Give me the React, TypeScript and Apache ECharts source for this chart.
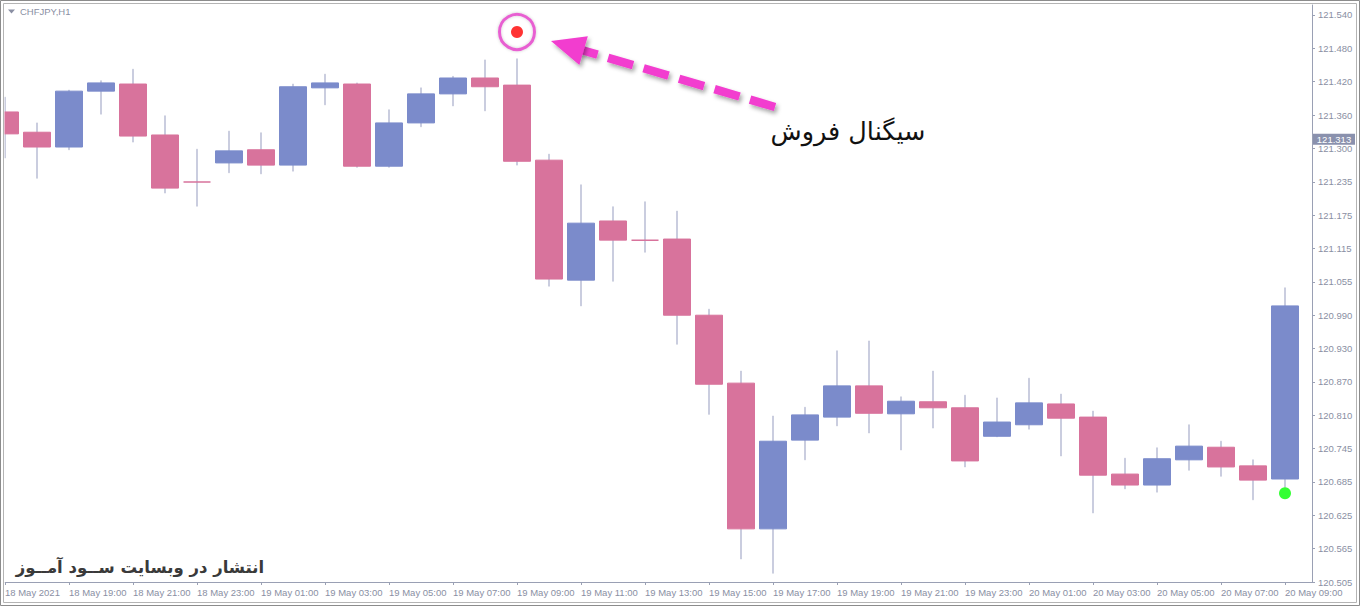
import React, { useEffect, useRef } from 'react';
import * as echarts from 'echarts';

// ---------- data ----------
const symbolLabel = 'CHFJPY,H1';
const signalText = 'سیگنال فروش';
const watermarkText = 'انتشار در وبسایت ســود آمــوز';

// x tick labels (one every 2 bars, starting at bar 0)
const timeLabels = [
  '18 May 2021', '18 May 19:00', '18 May 21:00', '18 May 23:00', '19 May 01:00', '19 May 03:00',
  '19 May 05:00', '19 May 07:00', '19 May 09:00', '19 May 11:00', '19 May 13:00', '19 May 15:00',
  '19 May 17:00', '19 May 19:00', '19 May 21:00', '19 May 23:00', '20 May 01:00', '20 May 03:00',
  '20 May 05:00', '20 May 07:00', '20 May 09:00',
];

// right price scale labels (bottom to top)
const priceLabels = [
  '120.505', '120.565', '120.625', '120.685', '120.745', '120.810', '120.870', '120.930', '120.990',
  '121.055', '121.115', '121.175', '121.235', '121.300', '121.360', '121.420', '121.480', '121.540',
];
const priceScaleMin = 120.505;
const priceScaleStep = 0.060882;

const opens = [
  121.363, 121.326, 121.299, 121.401, 121.414, 121.321, 121.235, 121.270, 121.294, 121.266,
  121.407, 121.414, 121.264, 121.343, 121.396, 121.425, 121.412, 121.275, 121.056, 121.164,
  121.129, 121.131, 120.992, 120.868, 120.602, 120.764, 120.806, 120.863, 120.812, 120.834,
  120.823, 120.771, 120.792, 120.830, 120.806, 120.702, 120.682, 120.728, 120.751, 120.717,
  120.693,
];
const closes = [
  121.323, 121.299, 121.401, 121.416, 121.319, 121.224, 121.235, 121.292, 121.266, 121.409,
  121.416, 121.264, 121.343, 121.396, 121.425, 121.409, 121.273, 121.058, 121.160, 121.129,
  121.129, 120.992, 120.866, 120.602, 120.762, 120.810, 120.863, 120.813, 120.835, 120.823,
  120.726, 120.797, 120.832, 120.804, 120.700, 120.682, 120.730, 120.753, 120.715, 120.691,
  121.009,
];
const lows = [
  121.279, 121.242, 121.294, 121.359, 121.308, 121.215, 121.191, 121.252, 121.250, 121.255,
  121.376, 121.262, 121.262, 121.336, 121.374, 121.365, 121.266, 121.045, 121.009, 121.054,
  121.107, 120.939, 120.811, 120.547, 120.521, 120.728, 120.790, 120.777, 120.746, 120.786,
  120.715, 120.770, 120.784, 120.735, 120.631, 120.675, 120.669, 120.709, 120.698, 120.655,
  120.678,
];
const highs = [
  121.390, 121.343, 121.403, 121.420, 121.441, 121.356, 121.295, 121.328, 121.325, 121.414,
  121.432, 121.416, 121.367, 121.407, 121.428, 121.458, 121.460, 121.286, 121.230, 121.190,
  121.199, 121.182, 121.003, 120.890, 120.808, 120.824, 120.927, 120.945, 120.843, 120.890,
  120.846, 120.841, 120.877, 120.848, 120.817, 120.731, 120.750, 120.792, 120.762, 120.728,
  121.042,
];

const sellSignal = [16, 121.509];
const buySignal = [40, 120.667];
const currentPrice = 121.313;
const currentPriceLabel = '121.313';

// ---------- styles ----------
const BULL = '#7b8bcb';
const BEAR = '#d8739c';
const WICK = '#c4c8db';
const AXIS = '#9aa0b4';
const LABEL = '#8a8fa3';
const MAGENTA = '#f23ecf';
const FONT = '"Liberation Sans", Arial, sans-serif';
const AR_FONT = '"DejaVu Sans", sans-serif';

export default function App() {
  const ref = useRef<HTMLDivElement>(null);

  useEffect(() => {
    const el = ref.current as HTMLDivElement;
    const chart = echarts.init(el, undefined, { renderer: 'svg' });

    const wickData = lows.map((l, i) => [i, l, highs[i], l, highs[i]]);
    const bodyData = opens.map((o, i) => {
      const c = closes[i];
      const item: any = { value: [i, o, c, Math.min(o, c), Math.max(o, c)] };
      if (o === c) {
        item.itemStyle = { borderColor: BEAR, borderColor0: BEAR, borderColorDoji: BEAR, borderWidth: 1.5 };
      }
      return item;
    });

    const gridTop = 5;
    const gridBottomPx = 582;
    const plotH = gridBottomPx - gridTop;
    const pxPerStep = 33.353;
    const stepsVisible = plotH / pxPerStep;
    const priceMax = priceScaleMin + stepsVisible * priceScaleStep;

    const option: any = {
      animation: false,
      backgroundColor: '#ffffff',
      grid: { left: 5, top: gridTop, right: 48, bottom: 606 - gridBottomPx, containLabel: false },
      xAxis: {
        type: 'value',
        min: 0,
        max: (1312 - 5) / 32,
        interval: 2,
        axisLine: { show: true, onZero: false, lineStyle: { color: AXIS, width: 1 } },
        axisTick: { show: true, length: 3, lineStyle: { color: AXIS } },
        splitLine: { show: false },
        axisLabel: {
          showMaxLabel: false,
          showMinLabel: true,
          align: 'left',
          margin: 5,
          padding: [0, 0, 0, 0],
          fontSize: 9.5,
          fontFamily: FONT,
          color: LABEL,
          formatter: (v: number) => {
            const idx = Math.round(v / 2);
            return Math.abs(v / 2 - idx) < 1e-6 && timeLabels[idx] ? timeLabels[idx] : '';
          },
        },
      },
      yAxis: [
        {
          type: 'value',
          min: priceScaleMin,
          max: priceMax,
          position: 'right',
          show: false,
          axisLine: { onZero: false },
          splitLine: { show: false },
        },
        {
          type: 'value',
          min: 0,
          max: stepsVisible,
          interval: 1,
          position: 'right',
          axisLine: { show: true, onZero: false, lineStyle: { color: AXIS, width: 1 } },
          axisTick: { show: true, length: 3, lineStyle: { color: AXIS } },
          splitLine: { show: false },
          axisLabel: {
            showMaxLabel: false,
            margin: 6,
            fontSize: 9.5,
            fontFamily: FONT,
            color: LABEL,
            formatter: (v: number) => {
              const idx = Math.round(v);
              return Math.abs(v - idx) < 1e-6 && priceLabels[idx] ? priceLabels[idx] : '';
            },
          },
        },
      ],
      series: [
        {
          name: 'wicks',
          type: 'candlestick',
          xAxisIndex: 0,
          yAxisIndex: 0,
          silent: true,
          barWidth: 1.5,
          itemStyle: { color: WICK, color0: WICK, borderColor: WICK, borderColor0: WICK, borderColorDoji: WICK, borderWidth: 0.8 },
          data: wickData,
        },
        {
          name: 'bodies',
          type: 'candlestick',
          xAxisIndex: 0,
          yAxisIndex: 0,
          silent: true,
          barWidth: 28,
          itemStyle: { color: BULL, color0: BEAR, borderColor: BULL, borderColor0: BEAR, borderColorDoji: BEAR, borderWidth: 1 },
          data: bodyData,
        },
        {
          name: 'sellRing',
          type: 'scatter',
          xAxisIndex: 0,
          yAxisIndex: 0,
          silent: true,
          symbol: 'circle',
          symbolSize: 35,
          itemStyle: { color: 'rgba(255,255,255,0)', borderColor: '#e63fcb', borderWidth: 3, shadowBlur: 3, shadowColor: 'rgba(0,0,0,0.25)' },
          data: [sellSignal],
          z: 5,
        },
        {
          name: 'sell',
          type: 'scatter',
          xAxisIndex: 0,
          yAxisIndex: 0,
          silent: true,
          symbol: 'circle',
          symbolSize: 12,
          itemStyle: { color: '#ff0000' },
          data: [sellSignal],
          z: 6,
        },
        {
          name: 'buy',
          type: 'scatter',
          xAxisIndex: 0,
          yAxisIndex: 0,
          silent: true,
          symbol: 'circle',
          symbolSize: 12,
          itemStyle: { color: '#00ff00' },
          data: [buySignal],
          z: 6,
        },
      ],
    };

    chart.setOption(option);

    const p = chart.convertToPixel({ seriesIndex: 3 }, sellSignal) as number[];
    const px = p[0];
    const py = p[1];
    const cy = chart.convertToPixel({ yAxisIndex: 0 }, currentPrice) as number;

    // arrow geometry relative to the sell signal
    const tip = [px + 34, py + 9];
    const tail = [px + 258, py + 75];
    const dx = tip[0] - tail[0];
    const dy = tip[1] - tail[1];
    const len = Math.sqrt(dx * dx + dy * dy);
    const ux = dx / len;
    const uy = dy / len;
    const nx = -uy;
    const ny = ux;
    const headL = 34;
    const headW = 15;
    const base = [tip[0] - ux * headL, tip[1] - uy * headL];
    const shadow = { shadowBlur: 4, shadowOffsetX: 2, shadowOffsetY: 3, shadowColor: 'rgba(0,0,0,0.35)' };

    chart.setOption({
      graphic: [
        // mask outside left edge of plot
        { type: 'rect', z: 50, silent: true, shape: { x: 0, y: 0, width: 4.5, height: 606 }, style: { fill: '#ffffff' } },
        // frame
        { type: 'rect', z: 51, silent: true, shape: { x: 0.5, y: 0.5, width: 1359, height: 605 }, style: { fill: 'none', stroke: '#8c8c8c', lineWidth: 1 } },
        { type: 'rect', z: 51, silent: true, shape: { x: 3.5, y: 3.5, width: 1353, height: 599 }, style: { fill: 'none', stroke: '#b4b4b4', lineWidth: 1 } },
        // symbol label
        { type: 'polygon', z: 52, silent: true, shape: { points: [[8, 9.5], [15, 9.5], [11.5, 13.5]] }, style: { fill: LABEL } },
        { type: 'text', z: 52, silent: true, x: 20, y: 11, style: { text: symbolLabel, font: `9.5px ${FONT}`, fill: LABEL, textAlign: 'left', textVerticalAlign: 'middle' } },
        // current price box
        { type: 'rect', z: 52, silent: true, shape: { x: 1313, y: cy - 5.5, width: 42, height: 11 }, style: { fill: '#8a91ad' } },
        { type: 'text', z: 53, silent: true, x: 1334, y: cy, style: { text: currentPriceLabel, font: `9.5px ${FONT}`, fill: '#ffffff', textAlign: 'center', textVerticalAlign: 'middle' } },
        // arrow
        {
          type: 'line', z: 40, silent: true,
          shape: { x1: tail[0], y1: tail[1], x2: base[0] + ux * 4, y2: base[1] + uy * 4 },
          style: { stroke: MAGENTA, lineWidth: 8.5, lineDash: [26, 11], ...shadow },
        },
        {
          type: 'polygon', z: 41, silent: true,
          shape: { points: [tip, [base[0] + nx * headW, base[1] + ny * headW], [base[0] - nx * headW, base[1] - ny * headW]] },
          style: { fill: MAGENTA, ...shadow },
        },
        // signal text
        { type: 'text', z: 42, silent: true, x: px + 331, y: py + 99, style: { text: signalText, font: `25.5px ${AR_FONT}`, fill: '#111111', textAlign: 'center', textVerticalAlign: 'middle' } },
        // watermark
        { type: 'text', z: 42, silent: true, x: 140, y: 567, style: { text: watermarkText, font: `bold 16.5px ${AR_FONT}`, fill: '#3a3a3a', textAlign: 'center', textVerticalAlign: 'middle' } },
      ],
    });

    return () => {
      chart.dispose();
    };
  }, []);

  return <div ref={ref} style={{ position: 'fixed', left: 0, top: 0, width: 1360, height: 606 }} />;
}
